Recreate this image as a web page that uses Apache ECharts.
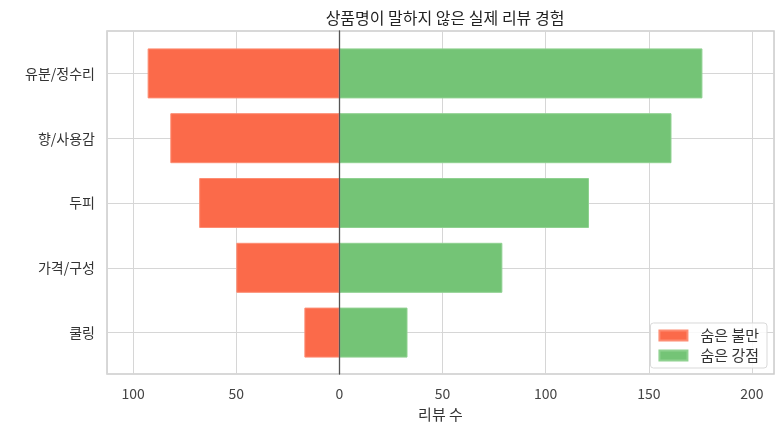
<!DOCTYPE html>
<html>
<head>
<meta charset="UTF-8">
<title>review-gap</title>
<script type="text/javascript" src="https://cdn.jsdelivr.net/npm/echarts@6/dist/echarts.min.js"></script>
<style>
	html, body { margin: 0; padding: 0; background: #fff; }
	#container { width: 784px; height: 434px; }
</style>
</head>
<body>
<div id="container"></div>
<script type="text/javascript">
	// 카테고리 (위에서 아래로)
	var categories = ['유분/정수리', '향/사용감', '두피', '가격/구성', '쿨링'];
	// 숨은 불만 (왼쪽, 음수로 그림)
	var hiddenComplaints = [93, 82, 68, 50, 17];
	// 숨은 강점 (오른쪽)
	var hiddenStrengths = [176, 161, 121, 79, 33];
	var seriesNames = ['숨은 불만', '숨은 강점'];
	var xMin = -112.7, xMax = 210.7;

	var font = '"Noto Sans CJK KR", "Noto Sans", sans-serif';

	var negData = [];
	for (var i = 0; i < hiddenComplaints.length; i++) {
		negData.push(-hiddenComplaints[i]);
	}

	var chart = echarts.init(document.getElementById('container'));
	chart.setOption({
		animation: false,
		textStyle: { fontFamily: font },
		title: {
			text: '상품명이 말하지 않은 실제 리뷰 경험',
			left: 440, top: 5, textAlign: 'center',
			textStyle: { fontSize: 16, fontWeight: 'normal', color: '#222', fontFamily: font }
		},
		legend: {
			orient: 'vertical',
			right: 17, bottom: 66,
			icon: 'rect',
			itemWidth: 28, itemHeight: 10, itemGap: 5,
			padding: [5, 8, 5, 8],
			backgroundColor: 'rgba(255,255,255,0.85)',
			borderColor: '#d9d9d9', borderWidth: 1, borderRadius: 3,
			textStyle: { fontSize: 15, color: '#333', fontFamily: font, padding: [0, 0, 0, 8] },
			data: seriesNames
		},
		grid: [
			// 바깥 틀 (세로 격자선, 0 기준선)
			{ left: 107, top: 31, width: 667, height: 343, show: true,
			  borderColor: '#cccccc', borderWidth: 1.5, backgroundColor: 'transparent' },
			// 막대가 들어가는 영역
			{ left: 107, top: 41, width: 667, height: 324 }
		],
		xAxis: [
			{
				gridIndex: 0, type: 'value', min: xMin, max: xMax, splitNumber: 6,
				name: '리뷰 수', nameLocation: 'middle', nameGap: 33,
				nameTextStyle: { fontSize: 15, color: '#333', fontFamily: font },
				axisLine: { show: false }, axisTick: { show: false },
				axisLabel: {
					fontSize: 14, color: '#444', margin: 13,
					showMinLabel: false, showMaxLabel: false,
					formatter: function (v) { return v % 50 === 0 ? String(Math.abs(v)) : ''; }
				},
				splitLine: { show: true, lineStyle: { color: '#d6d6d6', width: 1 } }
			},
			{
				gridIndex: 1, type: 'value', min: xMin, max: xMax, show: false
			}
		],
		yAxis: [
			{
				gridIndex: 0, type: 'category', data: categories, inverse: true, z: 5,
				axisLine: { show: true, onZero: true, lineStyle: { color: '#555', width: 1.3 } },
				axisTick: { show: false }, axisLabel: { show: false }, splitLine: { show: false }
			},
			{
				// 가로 격자선은 눈금을 안쪽으로 길게 그려서 표현
				gridIndex: 1, type: 'category', data: categories, inverse: true,
				axisLine: { show: false, onZero: false },
				axisTick: { show: true, inside: true, alignWithLabel: true, length: 667,
					lineStyle: { color: '#d6d6d6', width: 1 } },
				axisLabel: { fontSize: 14, color: '#333', margin: 12, fontFamily: font },
				splitLine: { show: false }
			}
		],
		series: [
			{
				name: seriesNames[0], type: 'bar', xAxisIndex: 1, yAxisIndex: 1,
				data: negData, barWidth: 50, barGap: '-100%',
				itemStyle: { color: '#fb6a4a', borderColor: '#fd8c72', borderWidth: 1 }
			},
			{
				name: seriesNames[1], type: 'bar', xAxisIndex: 1, yAxisIndex: 1,
				data: hiddenStrengths, barWidth: 50, barGap: '-100%',
				itemStyle: { color: '#74c476', borderColor: '#8fd190', borderWidth: 1 }
			}
		]
	});
</script>
</body>
</html>
